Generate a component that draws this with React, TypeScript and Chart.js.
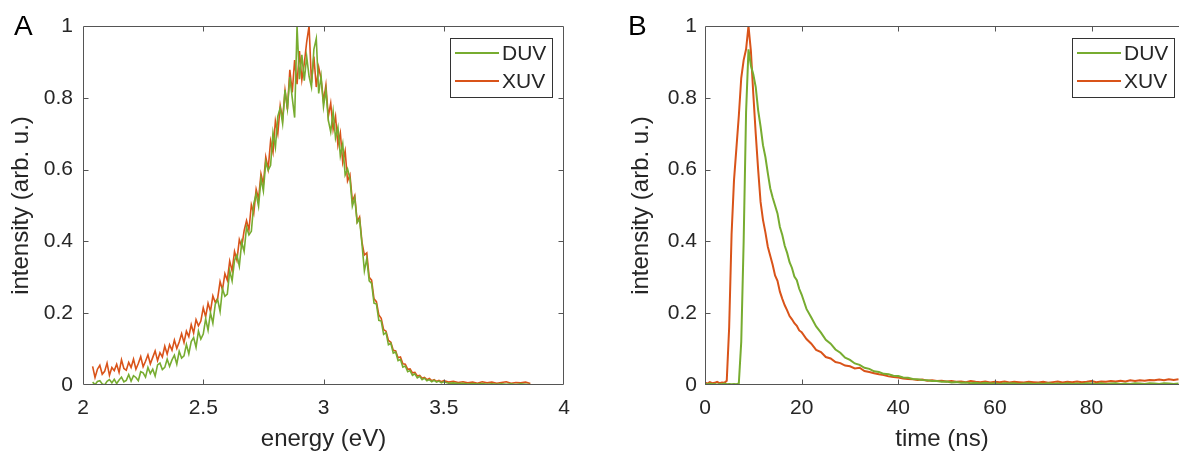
import React, { useEffect, useRef } from "react";
import { Chart, registerables } from "chart.js";
Chart.register(...registerables);

// ---------- data ----------
const energy = [
  2.04, 2.05, 2.06, 2.07, 2.08, 2.09, 2.1, 2.11, 2.12, 2.13,
  2.14, 2.15, 2.16, 2.17, 2.18, 2.19, 2.2, 2.21, 2.22, 2.23,
  2.24, 2.25, 2.26, 2.27, 2.28, 2.29, 2.3, 2.31, 2.32, 2.33,
  2.34, 2.35, 2.36, 2.37, 2.38, 2.39, 2.4, 2.41, 2.42, 2.43,
  2.44, 2.45, 2.46, 2.47, 2.48, 2.49, 2.5, 2.51, 2.52, 2.53,
  2.54, 2.55, 2.56, 2.57, 2.58, 2.59, 2.6, 2.61, 2.62, 2.63,
  2.64, 2.65, 2.66, 2.67, 2.68, 2.69, 2.7, 2.71, 2.72, 2.73,
  2.74, 2.75, 2.76, 2.77, 2.78, 2.79, 2.8, 2.81, 2.82, 2.83,
  2.84, 2.85, 2.86, 2.87, 2.88, 2.89, 2.9, 2.91, 2.92, 2.93,
  2.94, 2.95, 2.96, 2.97, 2.98, 2.99, 3.0, 3.01, 3.02, 3.03,
  3.04, 3.05, 3.06, 3.07, 3.08, 3.09, 3.1, 3.11, 3.12, 3.13,
  3.14, 3.15, 3.16, 3.17, 3.18, 3.19, 3.2, 3.21, 3.22, 3.23,
  3.24, 3.25, 3.26, 3.27, 3.28, 3.29, 3.3, 3.31, 3.32, 3.33,
  3.34, 3.35, 3.36, 3.37, 3.38, 3.39, 3.4, 3.41, 3.42, 3.43,
  3.44, 3.45, 3.46, 3.47, 3.48, 3.49, 3.5,
  3.52, 3.54, 3.56, 3.58, 3.6, 3.62, 3.64, 3.66, 3.68, 3.7,
  3.72, 3.74, 3.76, 3.78, 3.8, 3.82, 3.84, 3.86,
];
const duvSpectrum = [
  0.008, 0.001, 0.010, 0.012, 0.003, 0.000, 0.010, 0.015, 0.006, 0.016,
  0.004, 0.014, 0.022, 0.009, 0.013, 0.029, 0.011, 0.026, 0.021, 0.012,
  0.037, 0.034, 0.022, 0.049, 0.032, 0.044, 0.025, 0.056, 0.061, 0.043,
  0.049, 0.072, 0.052, 0.070, 0.083, 0.058, 0.094, 0.075, 0.081, 0.113,
  0.087, 0.121, 0.132, 0.105, 0.150, 0.128, 0.142, 0.184, 0.153, 0.201,
  0.172, 0.225, 0.238, 0.205, 0.268, 0.247, 0.253, 0.318, 0.290, 0.347,
  0.362, 0.331, 0.398, 0.372, 0.440, 0.418, 0.428, 0.505, 0.532, 0.498,
  0.575, 0.540, 0.622, 0.598, 0.612, 0.703, 0.662, 0.748, 0.772, 0.728,
  0.822, 0.770, 0.858, 0.800, 0.745, 1.000, 0.852, 0.920, 0.848, 0.915,
  0.860, 0.830, 0.935, 0.965, 0.812, 0.860, 0.775, 0.822, 0.738, 0.705,
  0.762, 0.688, 0.718, 0.638, 0.672, 0.585, 0.602, 0.575, 0.498, 0.521,
  0.452, 0.462, 0.392, 0.318, 0.352, 0.290, 0.283, 0.228, 0.226, 0.180,
  0.178, 0.141, 0.146, 0.112, 0.116, 0.089, 0.092, 0.068, 0.071, 0.050,
  0.053, 0.037, 0.040, 0.027, 0.031, 0.020, 0.024, 0.015, 0.019, 0.012,
  0.015, 0.009, 0.013, 0.008, 0.011, 0.006, 0.009,
  0.005, 0.006, 0.004, 0.005, 0.003, 0.004, 0.003, 0.004, 0.002, 0.003,
  0.002, 0.003, 0.002, 0.003, 0.001, 0.003, 0.002, 0.001,
];
const xuvSpectrum = [
  0.052, 0.021, 0.044, 0.055, 0.030, 0.038, 0.061, 0.027, 0.049, 0.040,
  0.058, 0.035, 0.070, 0.046, 0.041, 0.063, 0.049, 0.072, 0.044, 0.060,
  0.079, 0.051, 0.066, 0.084, 0.059, 0.077, 0.095, 0.068, 0.090, 0.078,
  0.108, 0.086, 0.112, 0.097, 0.125, 0.102, 0.120, 0.143, 0.118, 0.150,
  0.135, 0.168, 0.145, 0.182, 0.165, 0.178, 0.215, 0.190, 0.228, 0.205,
  0.248, 0.230, 0.242, 0.288, 0.265, 0.310, 0.292, 0.345, 0.318, 0.372,
  0.348, 0.405, 0.385, 0.430, 0.458, 0.432, 0.502, 0.478, 0.545, 0.518,
  0.588, 0.560, 0.635, 0.602, 0.680, 0.648, 0.735, 0.700, 0.778, 0.740,
  0.820, 0.768, 0.878, 0.815, 0.905, 0.838, 0.930, 0.850, 0.895, 0.955,
  1.000, 0.842, 0.915, 0.830, 0.885, 0.852, 0.790, 0.835, 0.748, 0.785,
  0.712, 0.748, 0.668, 0.702, 0.620, 0.652, 0.568, 0.585, 0.512, 0.528,
  0.455, 0.468, 0.398, 0.362, 0.368, 0.300, 0.292, 0.240, 0.232, 0.195,
  0.186, 0.154, 0.150, 0.124, 0.119, 0.097, 0.095, 0.076, 0.078, 0.059,
  0.058, 0.044, 0.045, 0.034, 0.035, 0.025, 0.027, 0.019, 0.021, 0.015,
  0.018, 0.012, 0.015, 0.010, 0.013, 0.009, 0.012,
  0.008, 0.010, 0.007, 0.009, 0.006, 0.008, 0.005, 0.009, 0.006, 0.008,
  0.005, 0.007, 0.009, 0.005, 0.007, 0.006, 0.008, 0.004,
];

const time = [
  0, 0.5, 1, 1.5, 2, 2.5, 3, 3.5, 4, 4.5,
  5, 5.5, 6, 6.5, 7, 7.5, 8, 8.5, 9, 9.5,
  10, 10.5, 11, 11.5, 12, 12.5, 13, 13.5, 14, 14.5,
  15, 15.5, 16, 16.5, 17, 17.5, 18, 18.5, 19, 19.5,
  20, 21, 22, 23, 24, 25, 26, 27, 28, 29,
  30, 31, 32, 33, 34, 35, 36, 37, 38, 39,
  40, 41, 42, 43, 44, 45, 46, 47, 48, 49,
  50, 51, 52, 53, 54, 55, 56, 57, 58, 59,
  60, 61, 62, 63, 64, 65, 66, 67, 68, 69,
  70, 71, 72, 73, 74, 75, 76, 77, 78, 79,
  80, 81, 82, 83, 84, 85, 86, 87, 88, 89,
  90, 91, 92, 93, 94, 95, 96, 97, 98,
];
const duvDecay = [
  0.003, 0.002, 0.004, 0.002, 0.003, 0.001, 0.003, 0.002, 0.004, 0.002,
  0.003, 0.002, 0.003, 0.002, 0.004, 0.120, 0.400, 0.760, 0.935, 0.890,
  0.865, 0.830, 0.765, 0.720, 0.668, 0.635, 0.590, 0.548, 0.522, 0.500,
  0.478, 0.440, 0.418, 0.388, 0.368, 0.342, 0.326, 0.302, 0.292, 0.268,
  0.252, 0.212, 0.188, 0.163, 0.146, 0.126, 0.115, 0.099, 0.090, 0.076,
  0.070, 0.060, 0.056, 0.048, 0.045, 0.038, 0.036, 0.031, 0.030, 0.026,
  0.025, 0.021, 0.020, 0.017, 0.016, 0.014, 0.013, 0.011, 0.011, 0.009,
  0.010, 0.007, 0.008, 0.006, 0.007, 0.005, 0.006, 0.004, 0.006, 0.004,
  0.005, 0.003, 0.005, 0.004, 0.005, 0.003, 0.004, 0.005, 0.003, 0.004,
  0.003, 0.005, 0.003, 0.004, 0.003, 0.005, 0.003, 0.004, 0.003, 0.005,
  0.004, 0.003, 0.005, 0.003, 0.004, 0.005, 0.003, 0.004, 0.003, 0.005,
  0.004, 0.003, 0.005, 0.004, 0.003, 0.005, 0.004, 0.003, 0.004,
];
const xuvDecay = [
  0.007, 0.004, 0.008, 0.005, 0.006, 0.009, 0.005, 0.007, 0.006, 0.012,
  0.160, 0.420, 0.570, 0.660, 0.750, 0.855, 0.905, 0.935, 1.000, 0.930,
  0.810, 0.700, 0.600, 0.510, 0.460, 0.425, 0.385, 0.360, 0.335, 0.305,
  0.290, 0.260, 0.240, 0.222, 0.208, 0.192, 0.183, 0.172, 0.165, 0.152,
  0.147, 0.128, 0.115, 0.098, 0.092, 0.078, 0.074, 0.064, 0.061, 0.054,
  0.052, 0.046, 0.048, 0.039, 0.036, 0.033, 0.030, 0.028, 0.024, 0.022,
  0.021, 0.018, 0.017, 0.016, 0.014, 0.015, 0.012, 0.013, 0.011, 0.012,
  0.010, 0.011, 0.009, 0.010, 0.008, 0.011, 0.009, 0.008, 0.010, 0.007,
  0.009, 0.008, 0.010, 0.007, 0.009, 0.008, 0.007, 0.009, 0.008, 0.007,
  0.009, 0.006, 0.008, 0.010, 0.007, 0.009, 0.008, 0.010, 0.008, 0.009,
  0.011, 0.008, 0.010, 0.009, 0.011, 0.010, 0.012, 0.010, 0.013, 0.011,
  0.013, 0.012, 0.014, 0.013, 0.015, 0.013, 0.016, 0.014, 0.016,
];

const seriesNames = ["DUV", "XUV"];
const seriesColors = ["#77AC30", "#D95319"];

const yTicks = [0, 0.2, 0.4, 0.6, 0.8, 1];
const yTickLabels = ["0", "0.2", "0.4", "0.6", "0.8", "1"];
const energyTicks = [2, 2.5, 3, 3.5, 4];
const energyTickLabels = ["2", "2.5", "3", "3.5", "4"];
const timeTicks = [0, 20, 40, 60, 80];
const timeTickLabels = ["0", "20", "40", "60", "80"];

// ---------- styling ----------
const FONT = "'Liberation Sans', Arial, Helvetica, sans-serif";
const TEXT = "#262626";
const AXIS = "#555555";

const framePlugin = {
  id: "frame",
  afterDatasetsDraw(chart: any, _args: any, opts: any) {
    const { ctx, chartArea } = chart;
    const { left, right, top, bottom } = chartArea;
    const xs = chart.scales.x;
    const ys = chart.scales.y;
    const L = Math.round(left) + 0.5;
    const R = Math.round(right) - 0.5;
    const T = Math.round(top) + 0.5;
    const B = Math.round(bottom) - 0.5;
    ctx.save();
    ctx.strokeStyle = AXIS;
    ctx.lineWidth = 1;
    ctx.beginPath();
    ctx.moveTo(L, T);
    ctx.lineTo(R + (opts.right ? 0 : 1), T);
    ctx.moveTo(L, T);
    ctx.lineTo(L, B);
    ctx.lineTo(R + (opts.right ? 0 : 1), B);
    if (opts.right) {
      ctx.moveTo(R, T);
      ctx.lineTo(R, B);
    }
    const tl = 5;
    (opts.xTicks as number[]).forEach((v) => {
      const p = Math.round(xs.getPixelForValue(v)) + 0.5;
      if (p <= L + 1 || p >= R - 1) return;
      ctx.moveTo(p, B);
      ctx.lineTo(p, B - tl);
      ctx.moveTo(p, T);
      ctx.lineTo(p, T + tl);
    });
    (opts.yTicks as number[]).forEach((v) => {
      const p = Math.round(ys.getPixelForValue(v)) + 0.5;
      if (p <= T + 1 || p >= B - 1) return;
      ctx.moveTo(L, p);
      ctx.lineTo(L + tl, p);
      if (opts.right) {
        ctx.moveTo(R, p);
        ctx.lineTo(R - tl, p);
      }
    });
    ctx.stroke();
    ctx.restore();
  },
  afterDraw(chart: any, _args: any, opts: any) {
    const { ctx } = chart;
    ctx.save();
    // panel letter
    ctx.fillStyle = "#000";
    ctx.font = `28px ${FONT}`;
    ctx.textAlign = "left";
    ctx.textBaseline = "alphabetic";
    ctx.fillText(opts.letter, opts.letterX, 35);
    // legend
    const [bx, by, bw, bh] = opts.legendBox;
    ctx.fillStyle = "#fff";
    ctx.fillRect(bx, by, bw, bh);
    ctx.strokeStyle = "#333";
    ctx.lineWidth = 1;
    ctx.strokeRect(bx + 0.5, by + 0.5, bw, bh);
    chart.data.datasets.forEach((ds: any, i: number) => {
      const ly = by + 15 + i * 28;
      ctx.strokeStyle = ds.borderColor;
      ctx.lineWidth = 2;
      ctx.beginPath();
      ctx.moveTo(bx + 5, ly);
      ctx.lineTo(bx + 49, ly);
      ctx.stroke();
      ctx.fillStyle = TEXT;
      ctx.font = `21px ${FONT}`;
      ctx.textBaseline = "middle";
      ctx.fillText(ds.label, bx + 52, ly + 1);
    });
    ctx.restore();
  },
};

function makeConfig(p: {
  xs: number[];
  series: number[][];
  xMin: number;
  xMax: number;
  xTicks: number[];
  xTickLabels: string[];
  xTitle: string;
  yAxisWidth: number;
  yTitlePad: number;
  yTickPad: number;
  rightPad: number;
  lineWidth: number;
  frameOpts: any;
}): any {
  return {
    type: "line",
    data: {
      datasets: p.series.map((vals, i) => ({
        label: seriesNames[i],
        data: vals.map((v, j) => ({ x: p.xs[j], y: v })),
        borderColor: seriesColors[i],
        backgroundColor: seriesColors[i],
        borderWidth: p.lineWidth,
        pointRadius: 0,
        tension: 0,
        fill: false,
      })),
    },
    options: {
      responsive: false,
      animation: false,
      devicePixelRatio: 1,
      layout: { padding: { top: 26, right: p.rightPad, left: 0, bottom: 0 } },
      plugins: {
        legend: { display: false },
        tooltip: { enabled: false },
        frame: p.frameOpts,
      },
      scales: {
        x: {
          type: "linear",
          min: p.xMin,
          max: p.xMax,
          afterBuildTicks: (s: any) => {
            s.ticks = p.xTicks.map((v) => ({ value: v }));
          },
          afterFit: (s: any) => {
            s.height = 70;
          },
          ticks: {
            autoSkip: false,
            maxRotation: 0,
            padding: 11,
            color: TEXT,
            font: { family: FONT, size: 21 },
            callback: (v: number) => {
              const k = p.xTicks.indexOf(v);
              return k >= 0 ? p.xTickLabels[k] : "";
            },
          },
          grid: { display: false, drawTicks: false },
          border: { display: false },
          title: {
            display: true,
            text: p.xTitle,
            color: TEXT,
            font: { family: FONT, size: 24 },
            padding: { top: 0, bottom: 1 },
          },
        },
        y: {
          type: "linear",
          min: 0,
          max: 1,
          afterBuildTicks: (s: any) => {
            s.ticks = yTicks.map((v) => ({ value: v }));
          },
          afterFit: (s: any) => {
            s.width = p.yAxisWidth;
          },
          ticks: {
            autoSkip: false,
            padding: p.yTickPad,
            color: TEXT,
            font: { family: FONT, size: 21 },
            callback: (v: number) => {
              const k = yTicks.indexOf(v);
              return k >= 0 ? yTickLabels[k] : "";
            },
          },
          grid: { display: false, drawTicks: false },
          border: { display: false },
          title: {
            display: true,
            text: "intensity (arb. u.)",
            color: TEXT,
            font: { family: FONT, size: 24 },
            padding: { top: p.yTitlePad, bottom: 0 },
          },
        },
      },
    },
    plugins: [framePlugin],
  };
}

export default function App() {
  const refA = useRef<HTMLCanvasElement>(null);
  const refB = useRef<HTMLCanvasElement>(null);

  useEffect(() => {
    document.body.style.margin = "0";
    const a = new Chart(
      refA.current as HTMLCanvasElement,
      makeConfig({
        xs: energy,
        series: [duvSpectrum, xuvSpectrum],
        xMin: 2,
        xMax: 4,
        xTicks: energyTicks,
        xTickLabels: energyTickLabels,
        xTitle: "energy (eV)",
        yAxisWidth: 83,
        yTitlePad: 7,
        yTickPad: 10,
        rightPad: 26,
        lineWidth: 1.6,
        frameOpts: {
          right: true,
          xTicks: energyTicks,
          yTicks: yTicks,
          letter: "A",
          letterX: 14,
          legendBox: [450, 38, 102, 59],
        },
      })
    );
    const b = new Chart(
      refB.current as HTMLCanvasElement,
      makeConfig({
        xs: time,
        series: [duvDecay, xuvDecay],
        xMin: 0,
        xMax: 98.1,
        xTicks: timeTicks,
        xTickLabels: timeTickLabels,
        xTitle: "time (ns)",
        yAxisWidth: 105,
        yTitlePad: 27,
        yTickPad: 8,
        rightPad: 0,
        lineWidth: 2,
        frameOpts: {
          right: false,
          xTicks: timeTicks,
          yTicks: yTicks,
          letter: "B",
          letterX: 28,
          legendBox: [472, 38, 102, 59],
        },
      })
    );
    return () => {
      a.destroy();
      b.destroy();
    };
  }, []);

  return (
    <div style={{ position: "absolute", left: 0, top: 0, width: 1179, height: 455, background: "#fff" }}>
      <canvas ref={refA} width={590} height={455} style={{ position: "absolute", left: 0, top: 0 }} />
      <canvas ref={refB} width={579} height={455} style={{ position: "absolute", left: 600, top: 0 }} />
    </div>
  );
}
